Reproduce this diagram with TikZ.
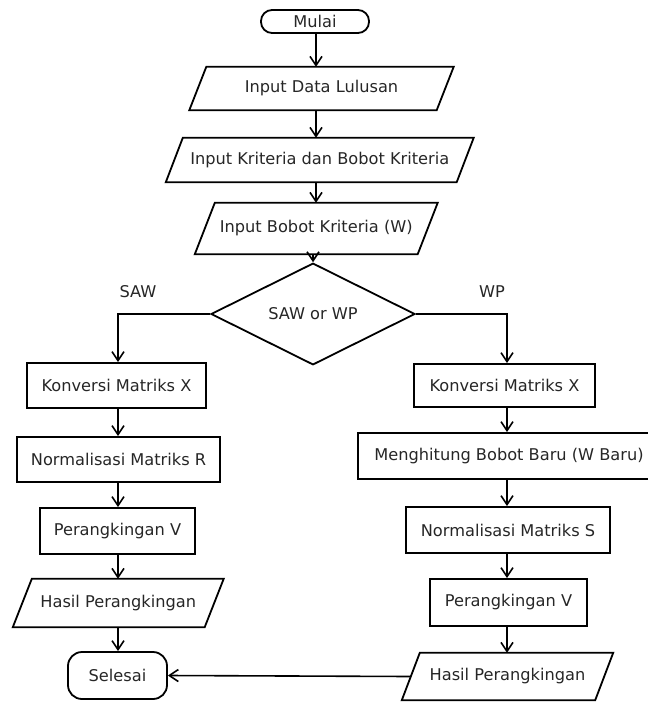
\documentclass[tikz,border=0pt]{standalone}
\usepackage{fontspec}
\setmainfont{DejaVu Sans}
\usetikzlibrary{shapes.geometric,arrows.meta}
\tikzset{
  shp/.style={line width=1.8pt, draw=black},
  txt/.style={font=\fontsize{16.2}{19}\selectfont, text=black!85, inner sep=0pt},
  boxr/.style={txt, shp, rectangle, minimum width=#1},
  pnode/.style={txt, rectangle, minimum width=#1},
  arr/.style={line width=1.6pt, -{Straight Barb[length=9pt,width=12pt,line width=1.6pt]}},
  ln/.style={line width=1.6pt}
}
\newcommand\iopara[2]{\draw[shp] ([xshift=#2]#1.north west) -- ([xshift=#2]#1.north east) -- ([xshift=-#2]#1.south east) -- ([xshift=-#2]#1.south west) -- cycle;}
\begin{document}
\begin{tikzpicture}[x=1pt,y=-1pt]
\useasboundingbox (0,0) rectangle (648,702);
\clip (0,0) rectangle (648,702);
% main column
\node[txt, shp, rectangle, rounded corners=11pt, minimum width=108pt, minimum height=23pt] (mulai) at (315,21.5) {Mulai};
\node[pnode=247pt, minimum height=43pt] (in1) at (321.5,88.5) {Input Data Lulusan};
\iopara{in1}{8.5pt}
\node[pnode=290.5pt, minimum height=44pt] (in2) at (319.75,160) {Input Kriteria dan Bobot Kriteria};
\iopara{in2}{8.5pt}
\node[pnode=222.5pt, minimum height=51pt] (in3) at (316.25,228.5) {Input Bobot Kriteria (W)};
\iopara{in3}{10pt}
\node[txt, shp, diamond, minimum width=204pt, minimum height=82pt] (dec) at (313,314) {SAW or WP};
\node[txt] (lsaw) at (138,292) {SAW};
\node[txt] (lwp) at (492,292) {WP};
% left column
\node[boxr=179pt, minimum height=45pt] (k1) at (116.5,385.5) {Konversi Matriks X};
\node[boxr=203pt, minimum height=45pt] (n1) at (118.5,459.5) {Normalisasi Matriks R};
\node[boxr=155pt, minimum height=46pt] (p1) at (117.5,531) {Perangkingan V};
\node[pnode=191.5pt, minimum height=48pt] (h1) at (118.25,603) {Hasil Perangkingan};
\iopara{h1}{9.5pt}
\node[txt, shp, rectangle, rounded corners=14pt, minimum width=99pt, minimum height=47pt] (sel) at (117.5,675.5) {Selesai};
% right column
\node[boxr=181pt, minimum height=43pt] (k2) at (504.5,385.5) {Konversi Matriks X};
\node[boxr=302pt, minimum height=46pt] (m2) at (509,456) {Menghitung Bobot Baru (W Baru)};
\node[boxr=204pt, minimum height=46pt] (s2) at (508,530) {Normalisasi Matriks S};
\node[boxr=157pt, minimum height=47pt] (p2) at (508.5,602.5) {Perangkingan V};
\node[pnode=193pt, minimum height=47pt] (h2) at (507.5,676.5) {Hasil Perangkingan};
\iopara{h2}{9pt}
% connectors main
\coordinate (cx) at (316,0);
\draw[arr] (mulai.south -| cx) -- (in1.north -| cx);
\draw[arr] (in1.south -| cx) -- (in2.north -| cx);
\draw[arr] (in2.south -| cx) -- (in3.north -| cx);
\draw[arr] (in3.south -| dec.north) -- (dec.north);
% branches
\coordinate (lx) at (118,0);
\coordinate (rx) at (507,0);
\draw[arr] (dec.west) -- (dec.west -| lx) -- (k1.north -| lx);
\draw[arr] (dec.east) -- (dec.east -| rx) -- (k2.north -| rx);
% left column arrows
\draw[arr] (k1.south -| lx) -- (n1.north -| lx);
\draw[arr] (n1.south -| lx) -- (p1.north -| lx);
\draw[arr] (p1.south -| lx) -- (h1.north -| lx);
\draw[arr] (h1.south -| lx) -- (sel.north -| lx);
% right column arrows
\draw[arr] (k2.south -| rx) -- (m2.north -| rx);
\draw[arr] (m2.south -| rx) -- (s2.north -| rx);
\draw[arr] (s2.south -| rx) -- (p2.north -| rx);
\draw[arr] (p2.south -| rx) -- (h2.north -| rx);
\draw[arr] (h2.west) -- (sel.east);
\end{tikzpicture}
\end{document}
